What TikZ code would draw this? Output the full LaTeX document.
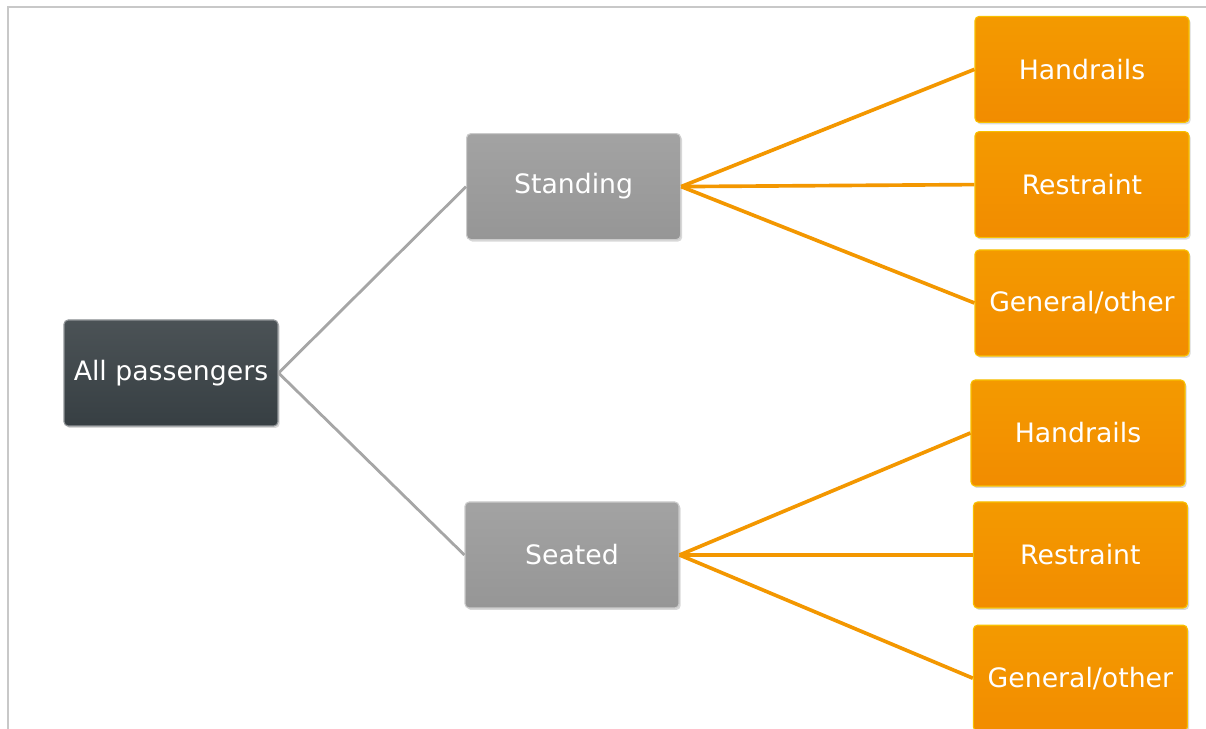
\documentclass[tikz,border=0pt]{standalone}
\usepackage{fontspec}
\setmainfont{DejaVu Sans}
\usetikzlibrary{shadows}
\definecolor{slate}{RGB}{55,63,67}
\definecolor{stone}{RGB}{150,150,150}
\definecolor{amber}{RGB}{242,140,0}
\definecolor{frame}{RGB}{200,200,200}
\tikzset{
  box/.style={rounded corners=3pt, minimum width=5.35cm, minimum height=2.65cm,
    text=white, font=\fontsize{19}{22}\selectfont, line width=0.8pt,
    drop shadow={opacity=0.3, shadow xshift=0.04cm, shadow yshift=-0.05cm}},
  rootbox/.style={box, draw=slate!55!white, top color=slate!90!white, bottom color=slate},
  midbox/.style={box, draw=stone!50!white, top color=stone!88!white, bottom color=stone},
  leafbox/.style={box, draw=amber!55!yellow, top color=amber!88!yellow, bottom color=amber},
  grayline/.style={draw=stone!85!white, line width=2pt},
  orangeline/.style={draw=amber!90!yellow, line width=2.6pt}
}
\newcommand{\branch}[3]{\draw[#1] (#2.east) -- (#3.west)}

\begin{document}
\begin{tikzpicture}
                \useasboundingbox (0,0) rectangle (30.15,18.225);
                \draw[frame, line width=1.2pt] (0.2,0) -- (0.2,18.05) -- (30.15,18.05);

                \node[rootbox] (all) at (4.275,8.9) {All passengers};
                \node[midbox] (stand) at (14.34,13.56) {Standing};
                \node[midbox] (seat) at (14.3,4.35) {Seated};

                \node[leafbox] (standrail) at (27.05,16.49) {Handrails};
                \node[leafbox] (standrest) at (27.05,13.61) {Restraint};
                \node[leafbox] (standgen) at (27.05,10.65) {General/other};

                \node[leafbox] (seatrail) at (26.95,7.4) {Handrails};
                \node[leafbox] (seatrest) at (27.01,4.35) {Restraint};
                \node[leafbox] (seatgen) at (27.01,1.27) {General/other};

                \branch{grayline}{all}{stand};
                \branch{grayline}{all}{seat};

                \branch{orangeline}{stand}{standrail};
                \branch{orangeline}{stand}{standrest};
                \branch{orangeline}{stand}{standgen};

                \branch{orangeline}{seat}{seatrail};
                \branch{orangeline}{seat}{seatrest};
                \branch{orangeline}{seat}{seatgen};
            \end{tikzpicture}
\end{document}
